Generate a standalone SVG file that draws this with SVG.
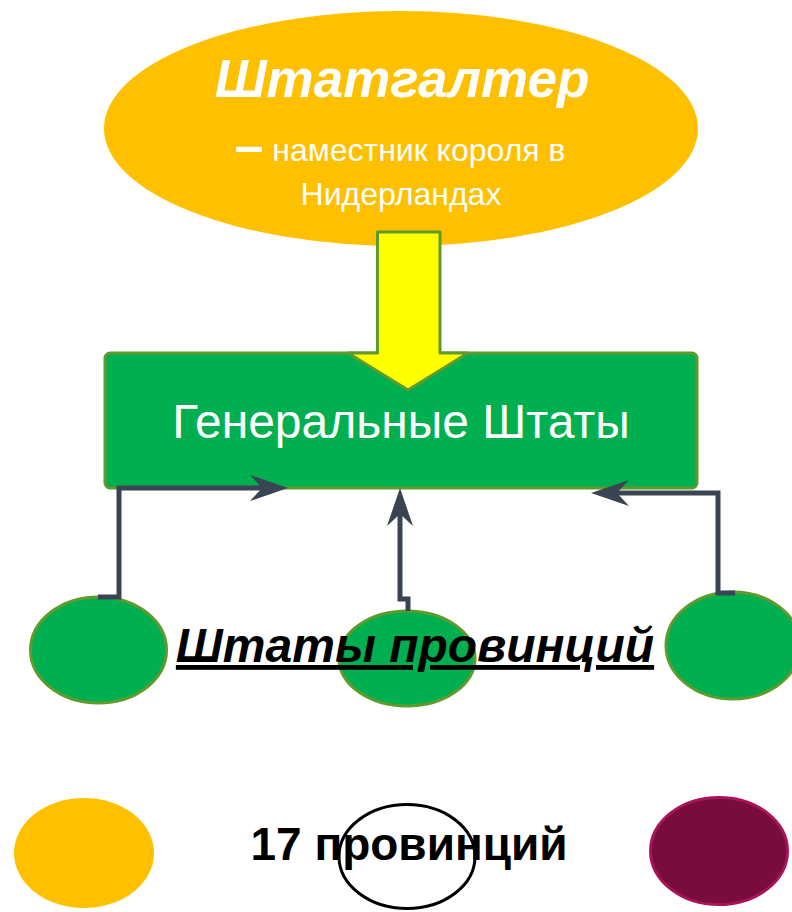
<svg xmlns="http://www.w3.org/2000/svg" width="792" height="912" viewBox="0 0 792 912">
<style>
.wt{fill:#fff;font-family:"Liberation Sans",Arial,sans-serif;text-anchor:middle}
.gr{fill:#00B050;stroke:#5F9B2C;stroke-width:3}
.con{fill:none;stroke:#3B4453;stroke-width:5;stroke-linejoin:miter}
.bk{fill:#000;font-family:"Liberation Sans",Arial,sans-serif;font-weight:bold}
</style>
<defs>
<marker id="ah" markerUnits="userSpaceOnUse" viewBox="-20 -15 42 30" refX="0" refY="0" markerWidth="42" markerHeight="30" orient="auto">
<path d="M20,0 L-18,-13 L-6,0 L-18,13 Z" fill="#3B4453"/>
</marker>
</defs>
<rect width="792" height="912" fill="#fff"/>
<g id="stadtholder">
<ellipse cx="401" cy="128.5" rx="297" ry="117.5" fill="#FFC000"/>
<text class="wt" x="402" y="97" font-size="53" font-weight="bold" font-style="italic">Штатгалтер</text>
<text class="wt" x="400" y="161" font-size="32"><tspan font-weight="bold" font-size="52" dy="2">–</tspan><tspan dy="-2"> наместник короля в</tspan></text>
<text class="wt" x="401" y="205" font-size="32">Нидерландах</text>
</g>
<g id="general-states">
<rect class="gr" x="105" y="353" width="592" height="135" rx="5"/>
<text class="wt" x="401" y="438" font-size="48">Генеральные Штаты</text>
</g>
<g id="yellow-arrow">
<path d="M377.5,232 H440 V353 H468 L408,390 L348,353 H377.5 Z" fill="#FFFF00" stroke="#5F9B2C" stroke-width="3" stroke-linejoin="round"/>
</g>
<g id="prov-left"><ellipse class="gr" cx="98.5" cy="650" rx="68" ry="53"/></g>
<g id="prov-mid"><ellipse class="gr" cx="407" cy="658.5" rx="68" ry="47.5"/></g>
<g id="prov-right"><ellipse class="gr" cx="733" cy="645.5" rx="67" ry="53.5"/></g>
<g id="connectors">
<path class="con" d="M98,597 H119 V488 H268" marker-end="url(#ah)"/>
<path class="con" d="M408,611 V599 H400 V508" marker-end="url(#ah)"/>
<path class="con" d="M735,593 H718 V493 H611" marker-end="url(#ah)"/>
</g>
<g id="label-prov">
<text class="bk" x="415" y="662" font-size="48" font-style="italic" text-anchor="middle" text-decoration="underline">Штаты провинций</text>
</g>
<g id="bottom-yellow"><ellipse cx="84" cy="853" rx="70" ry="55" fill="#FFC000"/></g>
<g id="bottom-outline"><ellipse cx="407" cy="856.5" rx="68" ry="52" fill="none" stroke="#000" stroke-width="3"/></g>
<g id="bottom-maroon"><ellipse cx="719" cy="851" rx="68.5" ry="53.5" fill="#780C3C" stroke="#A8135A" stroke-width="3"/></g>
<g id="label-17">
<text class="bk" x="409" y="860" font-size="46" text-anchor="middle">17 провинций</text>
</g>
</svg>
